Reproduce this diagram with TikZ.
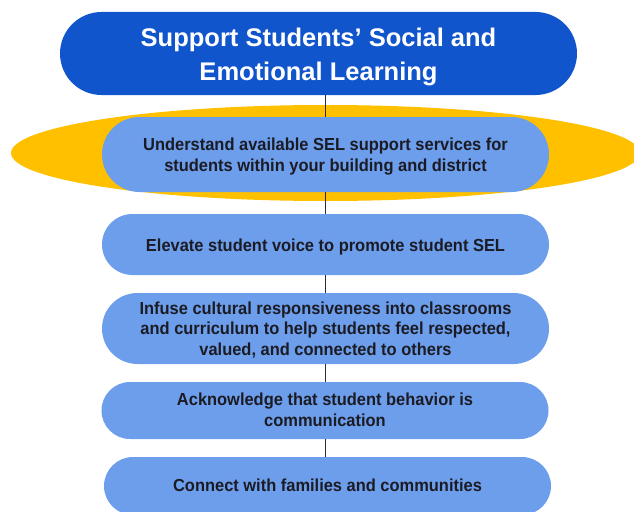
\documentclass[tikz,border=0pt]{standalone}
\usepackage{fontspec}
\setmainfont{Liberation Sans}
\newfontfamily\stepfont[FakeStretch=0.945]{Liberation Sans}
% struts fixing the height of a first line and the depth of a last line
\newcommand\topstrut[1]{\rule{0pt}{#1}}
\newcommand\basestrut{\rule[-6pt]{0pt}{6pt}}
\begin{document}
\definecolor{headblue}{HTML}{1155CC}
\definecolor{stepblue}{HTML}{6D9EEB}
\definecolor{halo}{HTML}{FFC000}
\definecolor{inktext}{HTML}{1B1B24}
\definecolor{linkline}{HTML}{2B2B3A}
\begin{tikzpicture}[x=1pt,y=-1pt,
  headbox/.style={rectangle, fill=headblue, text=white, font=\bfseries\fontsize{25.5}{33}\selectfont,
    align=center, minimum width=517pt, minimum height=83pt, rounded corners=41.5pt, inner sep=0pt},
  stepbox/.style={rectangle, fill=stepblue, text=inktext, font=\stepfont\bfseries\fontsize{17.4}{20.5}\selectfont,
    align=center, minimum width=447pt, rounded corners=#1, inner sep=0pt},
  link/.style={draw=linkline, line width=0.9pt}]
  \useasboundingbox (0,0) rectangle (634,511);
  \begin{scope}
    \clip (0,0) rectangle (634,511);
    % highlight behind the first step
    \fill[halo] (325.5,153) ellipse [x radius=314.5, y radius=48];

    \node[headbox] (head) at (318.5,53.5)
      {\topstrut{26pt}Support Students’ Social and\\Emotional Learning\basestrut};

    \node[stepbox=37.5pt, minimum height=75pt] (s1) at (325.5,154.5)
      {\fontsize{17.4}{21.5}\selectfont\topstrut{18.5pt}Understand available SEL support services for\\students within your building and district\basestrut};
    \node[stepbox=30.5pt, minimum height=61pt] (s2) at (325.5,244.5)
      {\topstrut{19pt}Elevate student voice to promote student SEL\basestrut};
    \node[stepbox=35.5pt, minimum height=71pt] (s3) at (325.5,328.5)
      {\topstrut{18pt}Infuse cultural responsiveness into classrooms\\and curriculum to help students feel respected,\\valued, and connected to others\basestrut};
    \node[stepbox=28.5pt, minimum height=57pt] (s4) at (325,410.5)
      {\topstrut{17pt}Acknowledge that student behavior is\\communication\basestrut};
    \node[stepbox=29pt, minimum height=58pt] (s5) at (327.5,486)
      {\topstrut{17.4pt}Connect with families and communities\basestrut};

    % connectors between the steps
    \draw[link] (s1.north) -- (s1.north |- head.south);
    \draw[link] (s1.south) -- (s2.north);
    \draw[link] (s2.south) -- (s3.north);
    \draw[link] (s3.south) -- (s3.south |- s4.north);
    \draw[link] (s4.south) -- (s4.south |- s5.north);
  \end{scope}
\end{tikzpicture}
\end{document}
